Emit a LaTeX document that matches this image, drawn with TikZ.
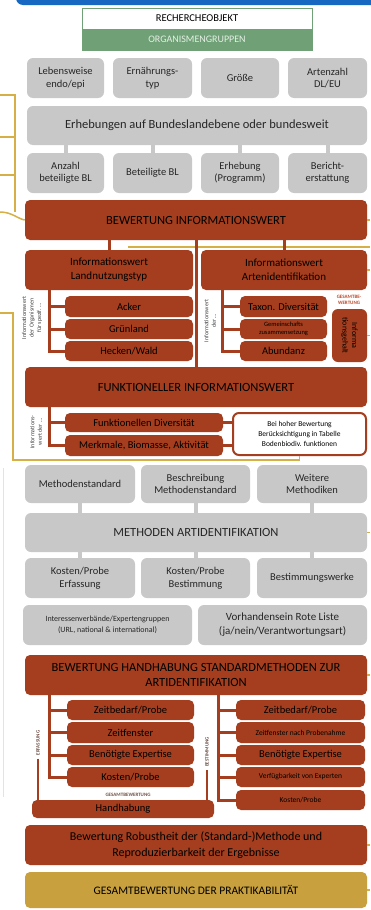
\documentclass[tikz,border=0pt]{standalone}
\usepackage{fontspec}
\setmainfont{Carlito}
\definecolor{boxred}{RGB}{165,62,30}
\definecolor{boxgray}{RGB}{200,200,200}
\definecolor{lineyel}{RGB}{214,176,70}
\definecolor{boxgold}{RGB}{200,160,62}
\definecolor{boxgreen}{RGB}{112,160,118}
\definecolor{barblue}{RGB}{22,104,192}
\definecolor{lbl}{RGB}{110,80,70}
\newcommand\fs[2]{\fontsize{#1}{#2}\selectfont}
\newcommand\bx[7]{\node[#1,minimum width={(#4-#2)*1pt},minimum height={(#5-#3)*1pt}] (#6) at ({(#2+#4)/2},{(#3+#5)/2}) {#7};}
\tikzset{
  gbox/.style={fill=boxgray, rounded corners=6pt, text=black!85, align=center, inner sep=1pt, font=\fs{10.5}{12.5}},
  rbox/.style={fill=boxred, rounded corners=5pt, text=black, inner sep=1pt, font=\fs{10.5}{12.5}},
  wbox/.style={fill=white, draw=boxred, line width=2pt, rounded corners=6pt, text=black, align=center, inner sep=1pt, font=\fs{7.5}{10}},
  gline/.style={draw=boxgray, line width=4pt},
  rline/.style={draw=boxred, line width=3pt},
  yline/.style={draw=lineyel, line width=1.5pt},
  rtext/.style={rotate=90, align=center, text=black!75, inner sep=0pt, font=\fs{6}{7.5}},
  slabel/.style={align=center, inner sep=0pt, font=\bfseries\fs{5}{6}}
}
\begin{document}
\begin{tikzpicture}[x=1pt,y=-1pt]
\useasboundingbox (0,0) rectangle (370,910);
\fill[white] (0,0) rectangle (370,910);
% top blue bar
\fill[barblue, rounded corners=7pt] (16,-12) -- (16,5) -- (380,5) -- (380,-12) -- cycle;
% research object
\bx{draw=boxgreen, line width=1pt, fill=white, text=black, font=\fs{10.5}{12}}{82}{8}{312}{29}{ro}{RECHERCHEOBJEKT}
\bx{draw=boxgreen, line width=1pt, fill=boxgreen, text={rgb,255:red,228;green,240;blue,228}, font=\fs{10}{12}}{82}{29}{312}{50}{og}{ORGANISMENGRUPPEN}
% row 1
\bx{gbox}{27}{58}{104}{98}{a1}{Lebensweise\\endo/epi}
\bx{gbox}{113}{58}{192}{98}{a2}{Ernährungs-\\typ}
\bx{gbox}{201}{58}{279}{98}{a3}{Größe}
\bx{gbox}{288}{58}{367}{98}{a4}{Artenzahl\\DL/EU}
\bx{gbox, font=\fs{12.5}{14}}{27}{106}{367}{145}{erh}{Erhebungen auf Bundeslandebene oder bundesweit}
\bx{gbox}{27}{153}{104}{193}{b1}{Anzahl\\beteiligte BL}
\bx{gbox}{113}{153}{192}{193}{b2}{Beteiligte BL}
\bx{gbox}{201}{153}{279}{193}{b3}{Erhebung\\(Programm)}
\bx{gbox}{288}{153}{367}{193}{b4}{Bericht-\\erstattung}
% Bewertung Informationswert
\bx{rbox, font=\fs{12.5}{14}}{25}{200}{367}{240}{bew}{BEWERTUNG INFORMATIONSWERT}
\bx{rbox, align=center, font=\fs{11}{14}}{25}{250}{193}{290}{lnt}{Informationswert\\Landnutzungstyp}
\bx{rbox, align=center, font=\fs{11}{14}}{201}{250}{367}{290}{art}{Informationswert\\Artenidentifikation}
\bx{rbox}{65}{296}{193}{317}{acker}{Acker}
\bx{rbox}{65}{319}{193}{339}{gruen}{Grünland}
\bx{rbox}{65}{341}{193}{361}{hecke}{Hecken/Wald}
\bx{rbox}{240}{296}{327}{317}{taxon}{Taxon. Diversität}
\bx{rbox, align=center, font=\fs{6.5}{8}}{240}{319}{327}{339}{gem}{Gemeinschafts\\zusammensetzung}
\bx{rbox}{240}{341}{327}{361}{abund}{Abundanz}
\node[slabel, text={rgb,255:red,190;green,72;blue,40}] (gbw) at (349,300) {GESAMTBE-\\WERTUNG};
\bx{rbox, rounded corners=6pt}{332}{309}{367}{362}{ig}{}
\node[rotate=-90, align=center, text=black, inner sep=0pt, font=\fs{8}{9.5}] (igt) at (ig.center) {Informa\\tionsgehalt};
\node[rtext] (rt1) at (32,318) {Informationswert\\der Organismen\\für spezif. \ldots};
\node[rtext] (rt2) at (210,321) {Informationswert\\der \ldots};
% Funktioneller
\bx{rbox, font=\fs{12.5}{14}}{25}{367}{367}{407}{funk}{FUNKTIONELLER INFORMATIONSWERT}
\bx{rbox}{65}{413}{223}{432}{fdiv}{Funktionellen Diversität}
\bx{rbox}{65}{435}{223}{456}{merk}{Merkmale, Biomasse, Aktivität}
\bx{wbox}{233}{413}{366}{455}{wb}{Bei hoher Bewertung\\Berücksichtigung in Tabelle\\Bodenbiodiv. funktionen}
\node[rtext] (rt3) at (36,432) {Informations-\\wert der \ldots};
% Methoden
\bx{gbox}{25}{465}{135}{503}{m1}{Methodenstandard}
\bx{gbox}{141}{465}{250}{503}{m2}{Beschreibung\\Methodenstandard}
\bx{gbox}{257}{465}{367}{503}{m3}{Weitere\\Methodiken}
\bx{gbox, font=\fs{12.5}{14}}{25}{513}{367}{552}{meth}{METHODEN ARTIDENTIFIKATION}
\bx{gbox}{25}{558}{135}{598}{k1}{Kosten/Probe\\Erfassung}
\bx{gbox}{141}{558}{250}{598}{k2}{Kosten/Probe\\Bestimmung}
\bx{gbox}{257}{558}{367}{598}{k3}{Bestimmungswerke}
\bx{gbox, font=\fs{8}{11}}{23}{605}{192}{645}{iv}{Interessenverbände/Expertengruppen\\(URL, national \& international)}
\bx{gbox, font=\fs{11}{14}}{198}{605}{367}{645}{rl}{Vorhandensein Rote Liste\\(ja/nein/Verantwortungsart)}
% Handhabung
\bx{rbox, align=center, font=\fs{12.5}{15}}{25}{655}{367}{695}{hh}{BEWERTUNG HANDHABUNG STANDARDMETHODEN ZUR\\ARTIDENTIFIKATION}
\bx{rbox}{67}{700}{194}{720}{e1}{Zeitbedarf/Probe}
\bx{rbox}{67}{722}{194}{743}{e2}{Zeitfenster}
\bx{rbox}{67}{745}{194}{765}{e3}{Benötigte Expertise}
\bx{rbox}{67}{767}{194}{787}{e4}{Kosten/Probe}
\bx{rbox}{236}{700}{365}{720}{s1}{Zeitbedarf/Probe}
\bx{rbox, font=\fs{7.5}{9}}{236}{722}{365}{743}{s2}{Zeitfenster nach Probenahme}
\bx{rbox}{236}{745}{365}{765}{s3}{Benötigte Expertise}
\bx{rbox, font=\fs{7.5}{9}}{236}{767}{365}{787}{s4}{Verfügbarkeit von Experten}
\bx{rbox, font=\fs{7.5}{9}}{236}{790}{365}{810}{s5}{Kosten/Probe}
\node[slabel, rotate=90, text=lbl] (erf) at (38,743) {ERFASSUNG};
\node[slabel, rotate=90, text=lbl] (best) at (207,752) {BESTIMMUNG};
\node[slabel, text=lbl] (gbw2) at (128,795) {GESAMTBEWERTUNG};
\bx{rbox}{32}{800}{214}{818}{hand}{Handhabung}
\bx{rbox, align=center, font=\fs{12}{15.5}}{25}{825}{367}{865}{rob}{Bewertung Robustheit der (Standard-)Methode und\\Reproduzierbarkeit der Ergebnisse}
\bx{rbox, fill=boxgold, font=\fs{11.5}{14}}{25}{872}{367}{908}{ges}{GESAMTBEWERTUNG DER PRAKTIKABILITÄT}
% coordinates
\coordinate (re) at (370,0);
\coordinate (lb) at (49,0);
\coordinate (rb) at (222,0);
\coordinate (lb2) at (49,0);
\coordinate (rb2) at (218,0);
\coordinate (ya) at (0,95);
\coordinate (yb) at (15,95);
\coordinate (yc) at (0,137);
\coordinate (yd) at (0,175);
\coordinate (ye) at (0,212);
\coordinate (yf) at (15,212);
\coordinate (yg) at (128,247);
\coordinate (yh) at (0,313);
\coordinate (yi) at (13,460);
\coordinate (yj) at (3,468);
\coordinate (yk) at (3,797);
% yellow lines
\draw[yline] (ya) -- (yb) -- (yf);
\draw[yline] (yc) -- (yc -| yb);
\draw[yline] (yd) -- (yd -| yb);
\draw[yline] (ye) .. controls (12,212) and (18,219) .. (bew.west);
\draw[yline] (yg) -- (yg -| re);
\draw[yline] (yh) -- (yh -| yi) -- (yi) -| (wb.south);
\draw[draw=lineyel!35, line width=1pt] (yj) -- (yk);
\foreach \n in {bew,art,ig,meth,hh,rob,ges} \draw[yline] (\n.east) -- (\n.east -| re);
% gray ticks
\foreach \n in {b1,b2,b3,b4} \draw[gline] (\n.north) -- (erh.south -| \n.north);
\foreach \n in {m1,m2,m3} \draw[gline] (\n.south) -- (meth.north -| \n.south);
\foreach \n in {k1,k2,k3} \draw[gline] (\n.north) -- (meth.south -| \n.north);
% red connectors
\draw[rline] (bew.south) -- (funk.north);
\draw[rline] (lnt.north) -- (lnt.north |- bew.south);
\draw[rline] (art.north) -- (art.north |- bew.south);
\draw[rline] (lnt.south -| lb) |- (hecke.west);
\draw[rline] (lb |- acker.west) -- (acker.west);
\draw[rline] (lb |- gruen.west) -- (gruen.west);
\draw[rline] (art.south -| rb) |- (abund.west);
\draw[rline] (rb |- taxon.west) -- (taxon.west);
\draw[rline] (rb |- gem.west) -- (gem.west);
\draw[rline] (funk.south -| lb) |- (merk.west);
\draw[rline] (lb |- fdiv.west) -- (fdiv.west);
\draw[rline] (fdiv.east) -- (fdiv.east -| wb.west);
\draw[rline] (merk.east) -- (merk.east -| wb.west);
\draw[rline] (hh.south -| lb2) |- (e4.west);
\foreach \n in {e1,e2,e3} \draw[rline] (lb2 |- \n.west) -- (\n.west);
\draw[rline] (hh.south -| rb2) |- (s5.west);
\foreach \n in {s1,s2,s3,s4} \draw[rline] (rb2 |- \n.west) -- (\n.west);
\draw[draw=boxred, line width=2pt] ([yshift=-3pt]erf.west) -- (erf.west |- hand.north);
\draw[draw=boxred, line width=2pt] ([yshift=-3pt]best.west) -- (best.west |- hand.north);
\end{tikzpicture}
\end{document}
